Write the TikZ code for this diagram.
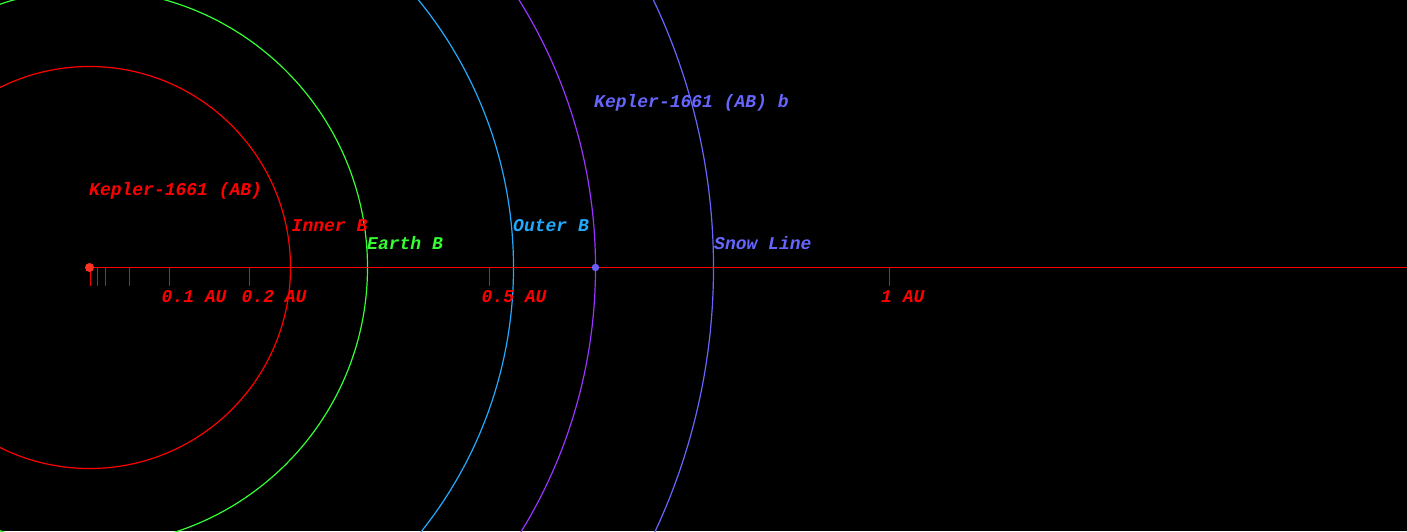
\documentclass[tikz,border=0pt]{standalone}
\usepackage{fontspec}
\setmonofont{Liberation Mono}
\definecolor{axred}{HTML}{FF0000}
\definecolor{stardot}{HTML}{FF3322}
\definecolor{earthg}{HTML}{33FF33}
\definecolor{outerc}{HTML}{22AAFF}
\definecolor{orbitp}{HTML}{9933FF}
\definecolor{snowb}{HTML}{6666FF}
\definecolor{planetb}{HTML}{6A5FF5}
\tikzset{
  lbl/.style={anchor=base west, inner sep=0pt, font=\fontsize{18}{20}\selectfont\ttfamily\bfseries\itshape},
  ring/.style={line width=1.2pt},
  tick/.style={axred, line width=1.4pt},
}
\begin{document}
\begin{tikzpicture}[x=1pt,y=-1pt]
\useasboundingbox (0,0) rectangle (1407,531);
\fill[black] (0,0) rectangle (1407,531);
\begin{scope}
\clip (0,0) rectangle (1407,531);
\coordinate (c) at (89.5,267.5);
\draw[ring, axred] (c) circle (201);
\draw[ring, earthg] (c) circle (278);
\draw[ring, outerc] (c) circle (424);
\draw[ring, orbitp] (c) circle (506);
\draw[ring, snowb] (c) circle (624);
\coordinate (axend) at (1407,267.5);
\draw[axred, line width=1.4pt] (c) -- (axend);
\foreach \t in {0.001,0.01,0.02,0.05,0.1,0.2,0.5,1}{
  \draw[tick] ({89.5+800*\t},267.5) -- ({89.5+800*\t},285.5);
}
\node[circle, fill=stardot, minimum size=9pt, inner sep=0pt] (star) at (c) {};
\node[circle, fill=planetb, minimum size=7.5pt, inner sep=0pt] (planet) at (595.5,267.5) {};
\end{scope}
\node[lbl, axred] (t01) at (161.5,302.5) {0.1 AU};
\node[lbl, axred] (t02) at (241.5,302.5) {0.2 AU};
\node[lbl, axred] (t05) at (481.5,302.5) {0.5 AU};
\node[lbl, axred] (t1) at (881,302.5) {1 AU};
\node[lbl, axred] (starlbl) at (89,195) {Kepler-1661 (AB)};
\node[lbl, axred] (inner) at (291.5,231) {Inner B};
\node[lbl, earthg] (earth) at (367,249) {Earth B};
\node[lbl, outerc] (outer) at (513,231) {Outer B};
\node[lbl, snowb] (snow) at (714,249) {Snow Line};
\node[lbl, snowb] (planetlbl) at (594,107.5) {Kepler-1661 (AB) b};
\end{tikzpicture}
\end{document}
